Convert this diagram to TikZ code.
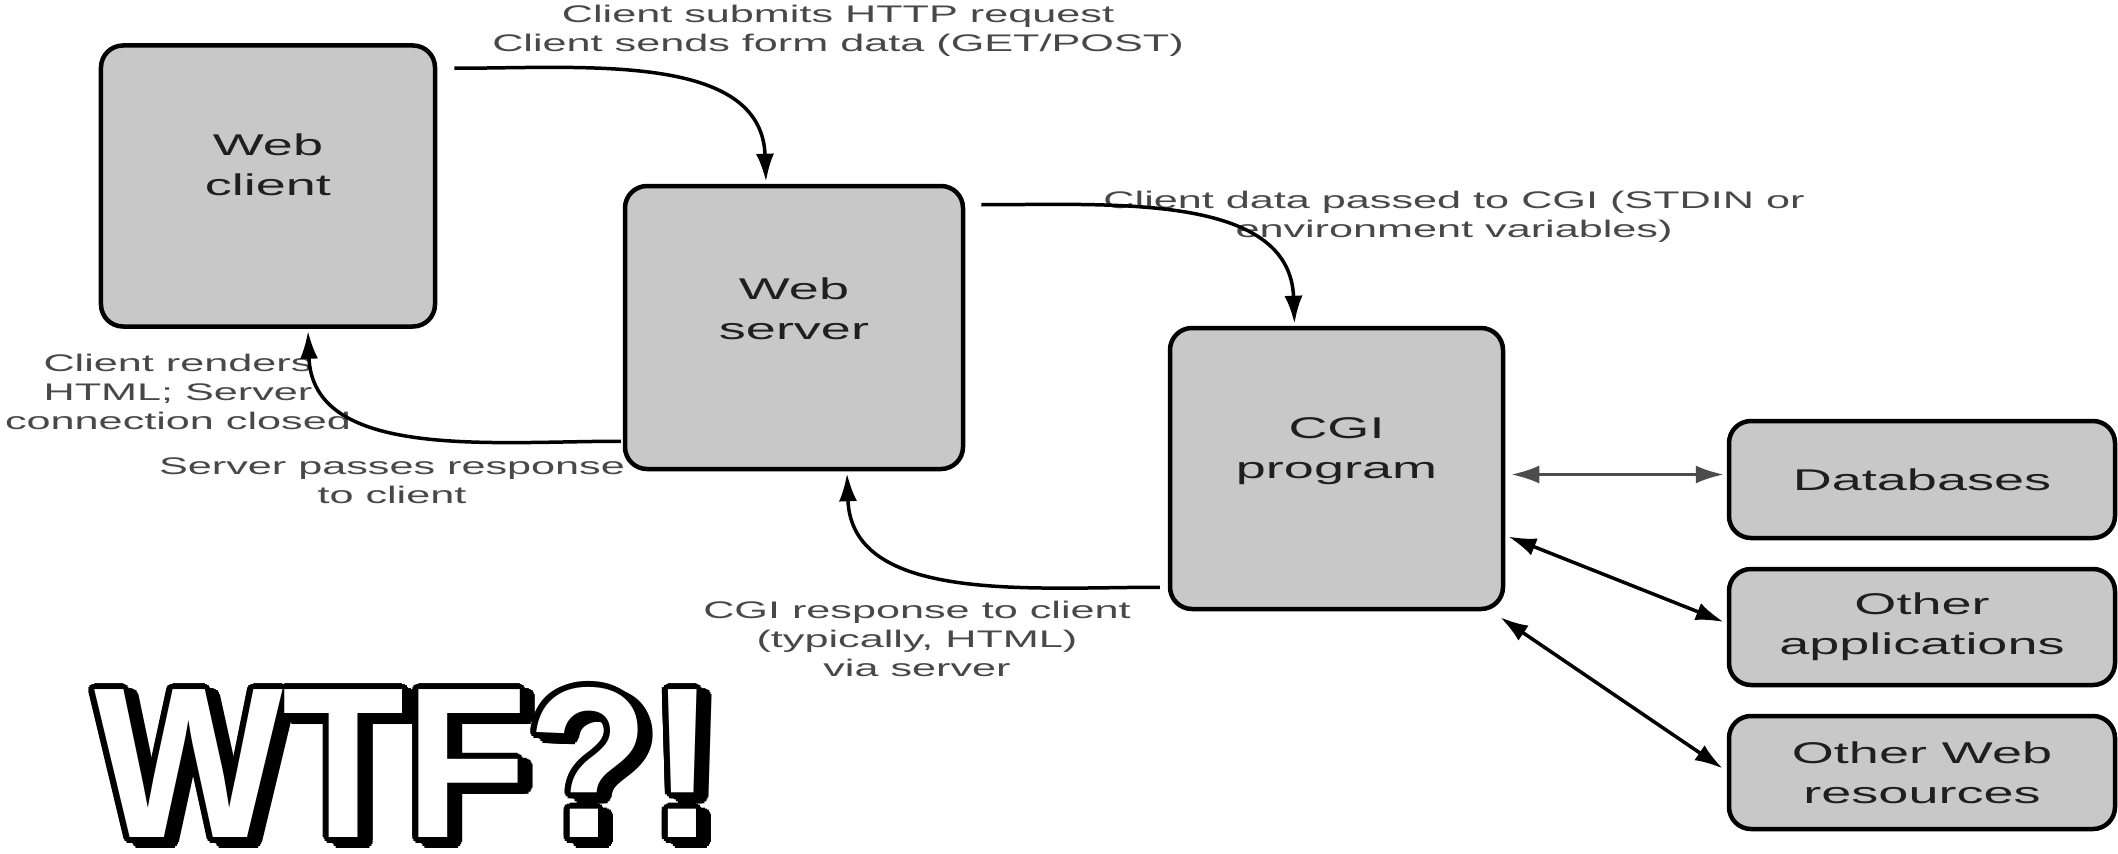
\documentclass[tikz,border=0pt]{standalone}
\usepackage{fontspec}
\usepackage{contour}
\usetikzlibrary{arrows.meta,calc}
\setmainfont{Liberation Sans}
\newfontfamily\widefont[FakeStretch=1.8]{Liberation Sans}
\newfontfamily\wtffont[FakeStretch=0.93]{Liberation Sans Bold}
\definecolor{boxgray}{RGB}{200,200,200}
\definecolor{labelgray}{RGB}{72,72,72}
\contourlength{6bp}
\newcommand{\wtfword}{WTF?!}
\begin{document}
\begin{tikzpicture}[x=1bp,y=-1bp,
  box/.style={draw=black, line width=4.5bp, fill=boxgray, rounded corners=22bp, inner sep=0pt},
  boxtext/.style={font=\widefont\fontsize{30bp}{40bp}\selectfont, text=black!88, align=center, inner sep=0pt},
  lbl/.style={font=\widefont\fontsize{24bp}{29bp}\selectfont, text=labelgray, align=center, inner sep=0pt},
  flow/.style={line width=3.5bp, -{Latex[length=28bp,width=18bp]}},
  both/.style={line width=3.5bp, {Latex[length=28bp,width=18bp]}-{Latex[length=28bp,width=18bp]}}]
\useasboundingbox[fill=white] (0,0) rectangle (2118,854);

% boxes
\node[box, minimum width=334bp, minimum height=281bp] (client) at (268,186) {};
\node[box, minimum width=338bp, minimum height=283bp] (server) at (794,327.5) {};
\node[box, minimum width=333bp, minimum height=281bp] (cgi) at (1336.5,468.5) {};
\node[box, minimum width=386bp, minimum height=117bp] (db) at (1922,479.5) {};
\node[box, minimum width=386bp, minimum height=116bp] (apps) at (1922,627) {};
\node[box, minimum width=386bp, minimum height=113bp] (webres) at (1922,772.5) {};

% box texts
\node[boxtext] (clientT) at ($(client.center)+(0,-21)$) {Web\\client};
\node[boxtext] (serverT) at ($(server.center)+(0,-19)$) {Web\\server};
\node[boxtext] (cgiT) at ($(cgi.center)+(0,-17)$) {CGI\\program};
\node[boxtext] (dbT) at (db.center) {Databases};
\node[boxtext] (appsT) at (apps.center) {Other\\applications};
\node[boxtext] (webresT) at (webres.center) {Other Web\\resources};

% labels
\node[lbl] (l1) at (838,31) {Client submits HTTP request\\Client sends form data (GET/POST)};
\node[lbl] (l2) at (1454,217) {Client data passed to CGI (STDIN or\\environment variables)};
\node[lbl] (l3) at (178,392) {Client renders\\HTML; Server\\connection closed};
\node[lbl] (l4) at (392,481) {Server passes response\\to client};
\node[lbl] (l5) at (917,639) {CGI response to client\\(typically, HTML)\\via server};

% connectors
\coordinate (a1s) at ($(client.north east)+(17,25)$);
\coordinate (a2s) at ($(server.north east)+(16,21)$);
\coordinate (a3s) at ($(server.south west)+(-2,-30)$);
\coordinate (a4s) at ($(cgi.south west)+(-8,-24)$);
\draw[flow] (a1s) to[out=0,in=92] ($(server.north)+(-28,-2)$);
\draw[flow] (a2s) to[out=0,in=92] ($(cgi.north)+(-42,-2)$);
\draw[flow] (a3s) to[out=180,in=-88] ($(client.south)+(40,2)$);
\draw[flow] (a4s) to[out=180,in=-88] ($(server.south)+(53,2)$);
\draw[both, line width=3bp, draw=black!70] ($(cgi.east)+(6,6)$) -- ($(db.west)+(-3,-5)$);
\draw[both] ($(cgi.east)+(3,68)$) -- ($(apps.west)+(-3,-5)$);
\draw[both] ($(cgi.south east)+(-5,6)$) -- ($(webres.west)+(-4,-4)$);

% WTF
\node[font=\wtffont\fontsize{215bp}{215bp}\selectfont, inner sep=0pt] (wtf) at (405,768)
  {\rlap{\hspace{9bp}\raisebox{-5bp}{\contour{black}{\wtfword}}}\contour{black}{\textcolor{white}{\wtfword}}};
\end{tikzpicture}
\end{document}
